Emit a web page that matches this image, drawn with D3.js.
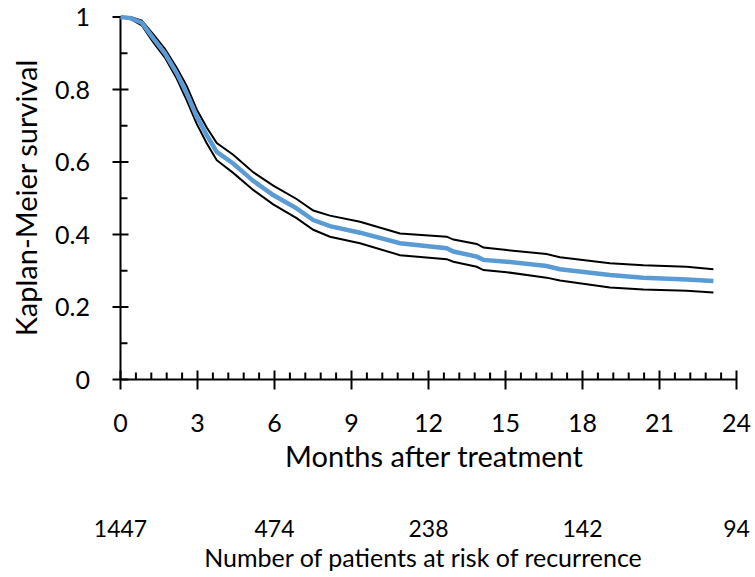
<!DOCTYPE html>
<html>
<head>
<meta charset="utf-8">
<script src="https://cdn.jsdelivr.net/npm/d3@7"></script>
<style>
  body { margin: 0; background: #fff; }
  text { font-family: Lato, "Open Sans", sans-serif; fill: #000; }
</style>
</head>
<body>
<svg width="755" height="577"></svg>
<script>
// ---- data ----
const months = [0, 0.4, 0.83, 1.28, 1.73, 2.19, 2.58, 2.97, 3.36, 3.75, 4.39, 5.17, 5.95, 6.86, 7.51, 8.16,
                9.33, 10.89, 12.71, 12.97, 13.88, 14.14, 15.05, 16.6, 17.12, 19.07, 20.37, 22.06, 23.1];
const survival = [1, 0.997, 0.984, 0.941, 0.9, 0.845, 0.79, 0.725, 0.674, 0.628, 0.596, 0.548, 0.509, 0.472, 0.44, 0.423,
                  0.405, 0.376, 0.362, 0.353, 0.339, 0.33, 0.325, 0.313, 0.304, 0.288, 0.281, 0.276, 0.272];
const upperCI = [1, 1, 0.99, 0.952, 0.912, 0.86, 0.81, 0.745, 0.695, 0.652, 0.62, 0.572, 0.535, 0.498, 0.466, 0.452,
                 0.435, 0.403, 0.394, 0.386, 0.374, 0.364, 0.357, 0.346, 0.337, 0.321, 0.315, 0.311, 0.304];
const lowerCI = [1, 0.994, 0.977, 0.93, 0.888, 0.83, 0.77, 0.705, 0.652, 0.605, 0.57, 0.523, 0.483, 0.445, 0.413, 0.394,
                 0.376, 0.343, 0.332, 0.325, 0.311, 0.302, 0.296, 0.281, 0.273, 0.254, 0.248, 0.245, 0.24];

const xTicks = [0, 3, 6, 9, 12, 15, 18, 21, 24];
const yTicks = [0, 0.2, 0.4, 0.6, 0.8, 1];
const riskMonths = [0, 6, 12, 18, 24];
const riskCounts = ["1447", "474", "238", "142", "94"];

// ---- scales ----
const x = d3.scaleLinear().domain([0, 24]).range([120.5, 736.5]);
const y = d3.scaleLinear().domain([0, 1]).range([379.5, 17]);

const svg = d3.select("svg");

// x minor ticks every 0.6 month (inside only)
const xMinor = d3.range(0, 24.001, 0.6).filter(m => Math.abs(m / 3 - Math.round(m / 3)) > 0.01);
// y minor ticks every 0.1 (inside only)
const yMinor = d3.range(0.1, 1, 0.2);

const axes = svg.append("g").attr("stroke", "#000").attr("stroke-width", 2);

axes.append("line")
  .attr("x1", x(0)).attr("x2", x(0))
  .attr("y1", y(1)).attr("y2", y(0));
axes.append("line")
  .attr("x1", x(0)).attr("x2", x(24))
  .attr("y1", y(0)).attr("y2", y(0));

axes.selectAll(".ymaj").data(yTicks).enter().append("line")
  .attr("x1", x(0) - 8).attr("x2", x(0) + 8)
  .attr("y1", d => y(d)).attr("y2", d => y(d));
axes.selectAll(".ymin").data(yMinor).enter().append("line")
  .attr("x1", x(0)).attr("x2", x(0) + 7)
  .attr("y1", d => y(d)).attr("y2", d => y(d));
axes.selectAll(".xmaj").data(xTicks).enter().append("line")
  .attr("x1", d => x(d)).attr("x2", d => x(d))
  .attr("y1", y(0) - 9).attr("y2", y(0) + 10);
axes.selectAll(".xmin").data(xMinor).enter().append("line")
  .attr("x1", d => x(d)).attr("x2", d => x(d))
  .attr("y1", y(0) - 7).attr("y2", y(0));

// tick labels
svg.selectAll(".ylab").data(yTicks).enter().append("text")
  .attr("x", 90).attr("y", d => y(d))
  .attr("dy", "0.36em")
  .attr("text-anchor", "end")
  .style("font-size", "25px")
  .text(d => d);

svg.selectAll(".xlab").data(xTicks).enter().append("text")
  .attr("x", d => x(d)).attr("y", 432)
  .attr("text-anchor", "middle")
  .style("font-size", "25px")
  .text(d => d);

// axis titles
svg.append("text")
  .attr("x", 434).attr("y", 467)
  .attr("text-anchor", "middle")
  .style("font-size", "29px")
  .text("Months after treatment");

svg.append("text")
  .attr("transform", "translate(37,198) rotate(-90)")
  .attr("text-anchor", "middle")
  .style("font-size", "29px")
  .text("Kaplan-Meier survival");

// number at risk
svg.selectAll(".risk").data(riskMonths).enter().append("text")
  .attr("x", d => x(d)).attr("y", 537)
  .attr("text-anchor", "middle")
  .style("font-size", "23px")
  .text((d, i) => riskCounts[i]);

svg.append("text")
  .attr("x", 423).attr("y", 567)
  .attr("text-anchor", "middle")
  .style("font-size", "25px")
  .text("Number of patients at risk of recurrence");

// curves
const line = d3.line().x(d => x(d[0])).y(d => y(d[1]));

svg.append("path")
  .datum(months.map((m, i) => [m, upperCI[i]]))
  .attr("d", line).attr("fill", "none").attr("stroke", "#000").attr("stroke-width", 2);
svg.append("path")
  .datum(months.map((m, i) => [m, lowerCI[i]]))
  .attr("d", line).attr("fill", "none").attr("stroke", "#000").attr("stroke-width", 2);
svg.append("path")
  .datum(months.map((m, i) => [m, survival[i]]))
  .attr("d", line).attr("fill", "none").attr("stroke", "#5b9bd5").attr("stroke-width", 4.5);
</script>
</body>
</html>
